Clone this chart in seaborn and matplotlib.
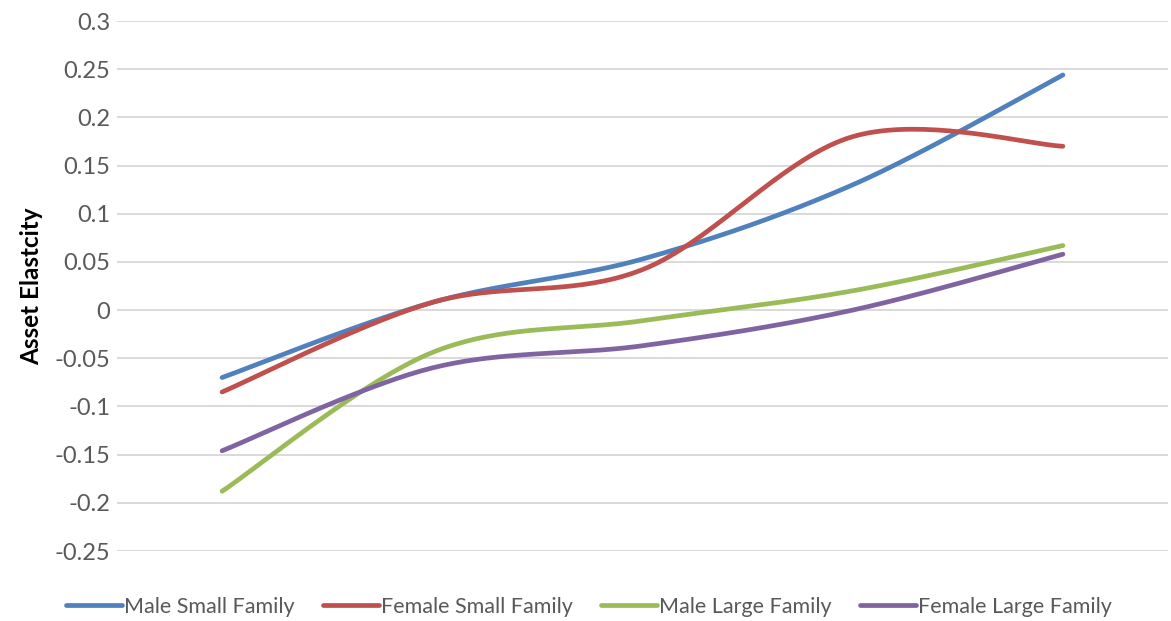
import numpy as np
import pandas as pd
import seaborn as sns
import matplotlib.pyplot as plt

# five unlabeled categories on the x axis
categories = [0, 1, 2, 3, 4]

male_small = [-0.070, 0.008, 0.053, 0.130, 0.244]
female_small = [-0.085, 0.008, 0.042, 0.180, 0.170]
male_large = [-0.188, -0.044, -0.011, 0.020, 0.067]
female_large = [-0.146, -0.060, -0.037, 0.000, 0.058]

series_names = ["Male Small Family", "Female Small Family",
                "Male Large Family", "Female Large Family"]
colors = ["#4F81BD", "#C0504D", "#9BBB59", "#8064A2"]
y_ticks = [0.3, 0.25, 0.2, 0.15, 0.1, 0.05, 0, -0.05, -0.1, -0.15, -0.2, -0.25]


def smooth(xs, ys, n=40):
    # Excel style smoothed line: bezier segments with catmull-rom tangents
    xs = np.asarray(xs, float)
    ys = np.asarray(ys, float)
    px = np.concatenate([[xs[0]], xs, [xs[-1]]])
    py = np.concatenate([[ys[0]], ys, [ys[-1]]])
    out_x, out_y = [], []
    t = np.linspace(0, 1, n)
    for i in range(len(xs) - 1):
        p0 = np.array([px[i], py[i]])
        p1 = np.array([px[i + 1], py[i + 1]])
        p2 = np.array([px[i + 2], py[i + 2]])
        p3 = np.array([px[i + 3], py[i + 3]])
        c1 = p1 + (p2 - p0) / 6
        c2 = p2 - (p3 - p1) / 6
        b = ((1 - t) ** 3)[:, None] * p1 + (3 * (1 - t) ** 2 * t)[:, None] * c1 \
            + (3 * (1 - t) * t ** 2)[:, None] * c2 + (t ** 3)[:, None] * p2
        out_x.extend(b[:, 0])
        out_y.extend(b[:, 1])
    return out_x, out_y


rows = []
for name, vals in zip(series_names, [male_small, female_small, male_large, female_large]):
    sx, sy = smooth(categories, vals)
    for a, b in zip(sx, sy):
        rows.append({"x": a, "y": b, "series": name})
df = pd.DataFrame(rows)

sns.set_style("white")
plt.rcParams['font.family'] = ['Lato', 'DejaVu Sans']

fig = plt.figure(figsize=(11.71, 6.21), dpi=100)
ax = fig.add_axes([117 / 1171, 1 - 551 / 621, 1051 / 1171, 530 / 621])

sns.lineplot(data=df, x="x", y="y", hue="series", palette=colors,
             hue_order=series_names, linewidth=3.4, sort=False,
             estimator=None, ax=ax, zorder=3)
for line in ax.get_lines():
    line.set_solid_capstyle("round")

ax.set_xlim(-0.5, 4.5)
ax.set_ylim(-0.25, 0.3)
ax.set_yticks(y_ticks)
ax.set_yticklabels([f"{v:g}" for v in y_ticks], color="#595959", fontsize=17)
ax.set_xticks([])
ax.tick_params(axis="y", length=0, pad=5)
ax.yaxis.grid(True, color="#D9D9D9", linewidth=1.4)
ax.set_axisbelow(True)
for s in ax.spines.values():
    s.set_visible(False)

ax.set_xlabel("")
ax.set_ylabel("Asset Elastcity", fontsize=17.5, fontweight="bold", color="black", labelpad=8)

handles, labels = ax.get_legend_handles_labels()
ax.legend(handles, labels, loc="upper center", bbox_to_anchor=(0.449, -0.05),
          ncol=4, frameon=False, fontsize=15.5, handlelength=2.6,
          handletextpad=0.1, columnspacing=1.3, labelcolor="#595959")

fig.savefig("out.png", dpi=100)
